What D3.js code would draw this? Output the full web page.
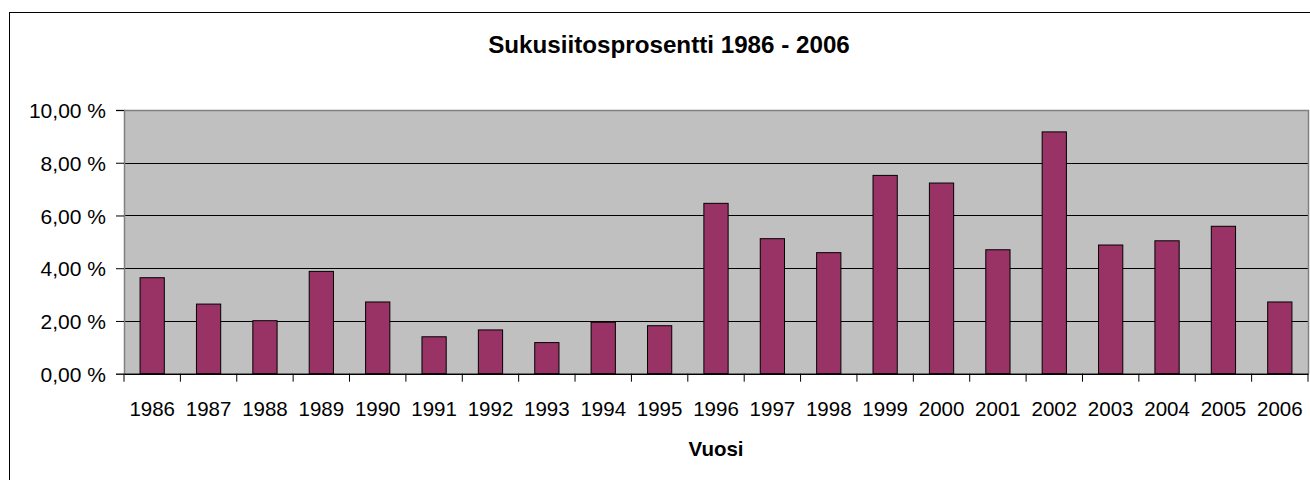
<!DOCTYPE html>
<html><head><meta charset="utf-8">
<script src="https://cdn.jsdelivr.net/npm/d3@7"></script>
<style>body{margin:0;background:#fff}svg{display:block;font-family:"Liberation Sans",Arial,sans-serif}</style>
</head><body><svg id="c" width="1310" height="480"></svg>
<script>
const years = ["1986","1987","1988","1989","1990","1991","1992","1993","1994","1995","1996","1997","1998","1999","2000","2001","2002","2003","2004","2005","2006"];
const values = [3.64,2.64,2.01,3.88,2.72,1.40,1.66,1.18,1.95,1.82,6.46,5.12,4.59,7.52,7.23,4.70,9.17,4.88,5.04,5.59,2.72];
const yTicks = [0,2,4,6,8,10];
const title = "Sukusiitosprosentti 1986 - 2006";
const xTitle = "Vuosi";

const svg = d3.select("#c");
const L = 124, R = 1308, T = 110, B = 373.7;
const FF = "Liberation Sans, Arial, sans-serif";
svg.append("rect").attr("x",9.5).attr("y",12.5).attr("width",1400).attr("height",600).attr("fill","#fff").attr("stroke","#000");

const x = d3.scaleBand().domain(years).range([L,R]).paddingInner(0.57).paddingOuter(0.285);
const xb = d3.scaleBand().domain(years).range([L,R]);
const y = d3.scaleLinear().domain([0,10]).range([B,T]);

svg.append("rect").attr("x",L).attr("y",T).attr("width",R-L).attr("height",B-T).attr("fill","#c0c0c0");
svg.append("g").selectAll("line").data(yTicks.filter(d=>d>0&&d<10)).join("line")
  .attr("x1",L).attr("x2",R).attr("y1",d=>Math.round(y(d))+0.5).attr("y2",d=>Math.round(y(d))+0.5).attr("stroke","#000");

svg.append("g").selectAll("rect").data(values).join("rect")
  .attr("x",(d,i)=>x(years[i])).attr("width",x.bandwidth())
  .attr("y",d=>y(d)).attr("height",d=>B-y(d))
  .attr("fill","#993366").attr("stroke","#000").attr("stroke-width",1);

svg.append("path").attr("d",`M${L},${T+0.5}H${R+0.5}V${B}`).attr("fill","none").attr("stroke","#808080").attr("stroke-width",1.5);

const fmt = d => d3.format(".2f")(d).replace(".",",") + " %";
const ya = svg.append("g").attr("transform",`translate(${L},0)`)
  .call(d3.axisLeft(y).tickValues(yTicks).tickFormat(fmt).tickSize(8).tickPadding(10));
ya.select(".domain").attr("stroke","#808080").attr("stroke-width",1.5);
ya.selectAll(".tick line").attr("stroke","#000");
ya.selectAll("text").attr("font-size",21).attr("fill","#000").attr("font-family",FF).attr("dy","0.36em");

const xa = svg.append("g").attr("transform",`translate(0,${B})`)
  .call(d3.axisBottom(xb).tickSize(0).tickPadding(0));
xa.select(".domain").attr("stroke","#000").attr("stroke-width",1.5);
xa.selectAll("text").attr("font-size",20.5).attr("fill","#000").attr("font-family",FF).attr("dy",null).attr("y",42.3);
svg.append("g").selectAll("line").data(d3.range(years.length+1)).join("line")
  .attr("x1",i=>L+i*xb.step()).attr("x2",i=>L+i*xb.step()).attr("y1",B).attr("y2",B+8).attr("stroke","#000");

svg.append("text").attr("x",669).attr("y",52.5).attr("text-anchor","middle").attr("font-weight","bold").attr("font-size",24.2).attr("font-family",FF).text(title);
svg.append("text").attr("x",716).attr("y",456).attr("text-anchor","middle").attr("font-weight","bold").attr("font-size",20.5).attr("font-family",FF).text(xTitle);
</script></body></html>
